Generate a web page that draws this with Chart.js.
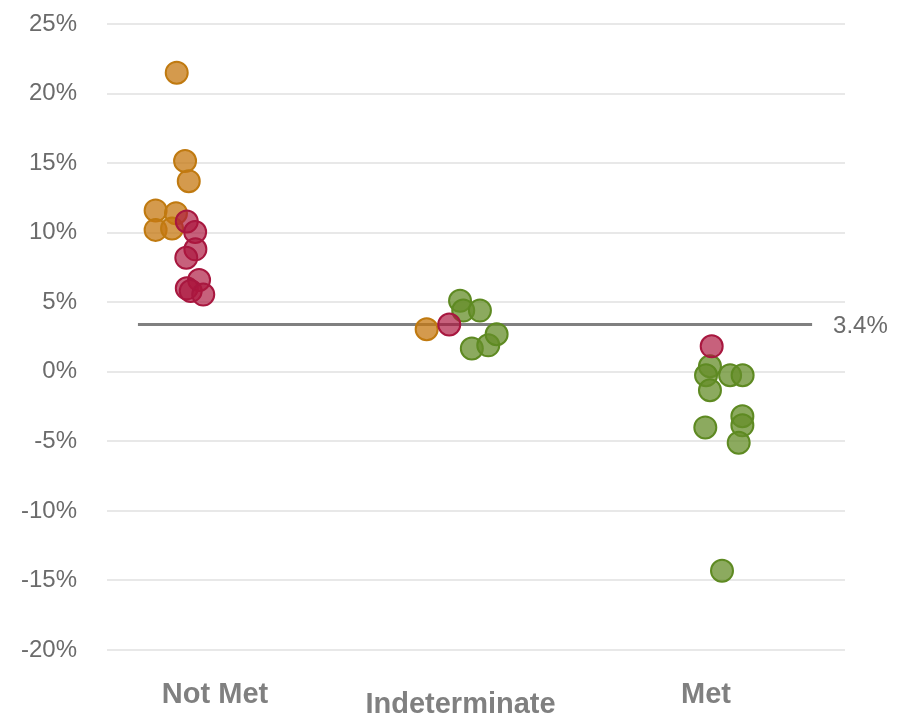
<!DOCTYPE html>
<html>
<head>
<meta charset="utf-8">
<script src="https://cdn.jsdelivr.net/npm/chart.js@4.4.1/dist/chart.umd.min.js"></script>
<style>
  html, body { margin: 0; padding: 0; background: #ffffff; }
  #wrap { width: 901px; height: 715px; }
</style>
</head>
<body>
<div id="wrap"><canvas id="chart"></canvas></div>
<script>
// Categories along the x axis (category index 0, 1, 2).
const categories = ["Not Met", "Indeterminate", "Met"];

// Y axis ticks (percent).
const yTicks = [-20, -15, -10, -5, 0, 5, 10, 15, 20, 25];

// Benchmark line value.
const benchmarkValue = 3.4;

// Points per colour group: x = category index + jitter, y = value in percent.
const crimsonX = [-0.115, -0.081, -0.080, -0.117, -0.065, -0.115, -0.099, -0.048, 0.954, 2.023];
const crimsonY = [10.8, 10.05, 8.8, 8.2, 6.6, 6.0, 5.8, 5.55, 3.4, 1.83];

const orangeX = [-0.156, -0.122, -0.107, -0.242, -0.159, -0.242, -0.175, 0.862];
const orangeY = [21.5, 15.15, 13.7, 11.6, 11.4, 10.2, 10.3, 3.06];

const greenX = [0.998, 1.011, 1.079, 1.046, 1.113, 1.147, 2.016, 2.0, 2.016, 2.098, 2.149, 2.148, 2.148, 1.997, 2.133, 2.065];
const greenY = [5.1, 4.4, 4.4, 1.67, 1.9, 2.7, 0.4, -0.25, -1.33, -0.25, -0.25, -3.2, -3.85, -4.0, -5.1, -14.3];

const FONT = "'Liberation Sans', Arial, sans-serif";

function toPoints(xs, ys) {
    return xs.map((x, i) => ({ x: x, y: ys[i] }));
}

// Draws the value label to the right of the benchmark line.
const benchmarkLabel = {
    id: "benchmarkLabel",
    afterDatasetsDraw(chart) {
        const meta = chart.getDatasetMeta(3);
        const last = meta.data[meta.data.length - 1];
        const ctx = chart.ctx;
        ctx.save();
        ctx.font = "24px " + FONT;
        ctx.fillStyle = "#6b6b6b";
        ctx.textAlign = "left";
        ctx.textBaseline = "middle";
        ctx.fillText(benchmarkValue + "%", last.x + 21, last.y + 2);
        ctx.restore();
    }
};

const pointStyle = (fill, border) => ({
    type: "scatter",
    backgroundColor: fill,
    borderColor: border,
    borderWidth: 2,
    pointRadius: 11,
    pointHoverRadius: 11
});

new Chart(document.getElementById("chart"), {
    type: "scatter",
    data: {
        datasets: [
            { label: "crimson", data: toPoints(crimsonX, crimsonY), ...pointStyle("rgba(172,22,62,0.68)", "#a8173f") },
            { label: "orange", data: toPoints(orangeX, orangeY), ...pointStyle("rgba(198,120,18,0.75)", "#c07a10") },
            { label: "green", data: toPoints(greenX, greenY), ...pointStyle("rgba(102,142,42,0.75)", "#5e8a22") },
            {
                type: "line",
                label: "benchmark",
                data: [{ x: -0.314, y: benchmarkValue }, { x: 2.432, y: benchmarkValue }],
                borderColor: "#808080",
                borderWidth: 3,
                pointRadius: 0,
                fill: false
            }
        ]
    },
    options: {
        responsive: true,
        maintainAspectRatio: false,
        animation: false,
        events: [],
        layout: { padding: { top: 24, right: 56, bottom: 0, left: 0 } },
        plugins: {
            legend: { display: false },
            tooltip: { enabled: false }
        },
        scales: {
            x: {
                type: "linear",
                min: -0.44,
                max: 2.566,
                border: { display: false },
                grid: { display: false, drawTicks: false },
                afterBuildTicks: (scale) => {
                    scale.ticks = categories.map((c, i) => ({ value: i }));
                },
                afterFit: (scale) => { scale.height = 65; },
                ticks: {
                    padding: 40,
                    color: "#808080",
                    font: { family: FONT, size: 29, weight: "bold", lineHeight: 0.345 },
                    // Indeterminate sits a little lower than the other two labels.
                    callback: (v) => v === 1 ? ["", categories[1]] : categories[v]
                }
            },
            y: {
                min: -20,
                max: 25,
                border: { display: false },
                grid: { color: "#e8e8e8", lineWidth: 2, drawTicks: false },
                afterBuildTicks: (scale) => {
                    scale.ticks = yTicks.map(v => ({ value: v }));
                },
                afterFit: (scale) => {
                    scale.width = 107;
                    scale.paddingTop = 0;
                    scale.paddingBottom = 0;
                },
                ticks: {
                    padding: 30,
                    color: "#6b6b6b",
                    font: { family: FONT, size: 24 },
                    callback: (v) => v + "%"
                }
            }
        }
    },
    plugins: [benchmarkLabel]
});
</script>
</body>
</html>
